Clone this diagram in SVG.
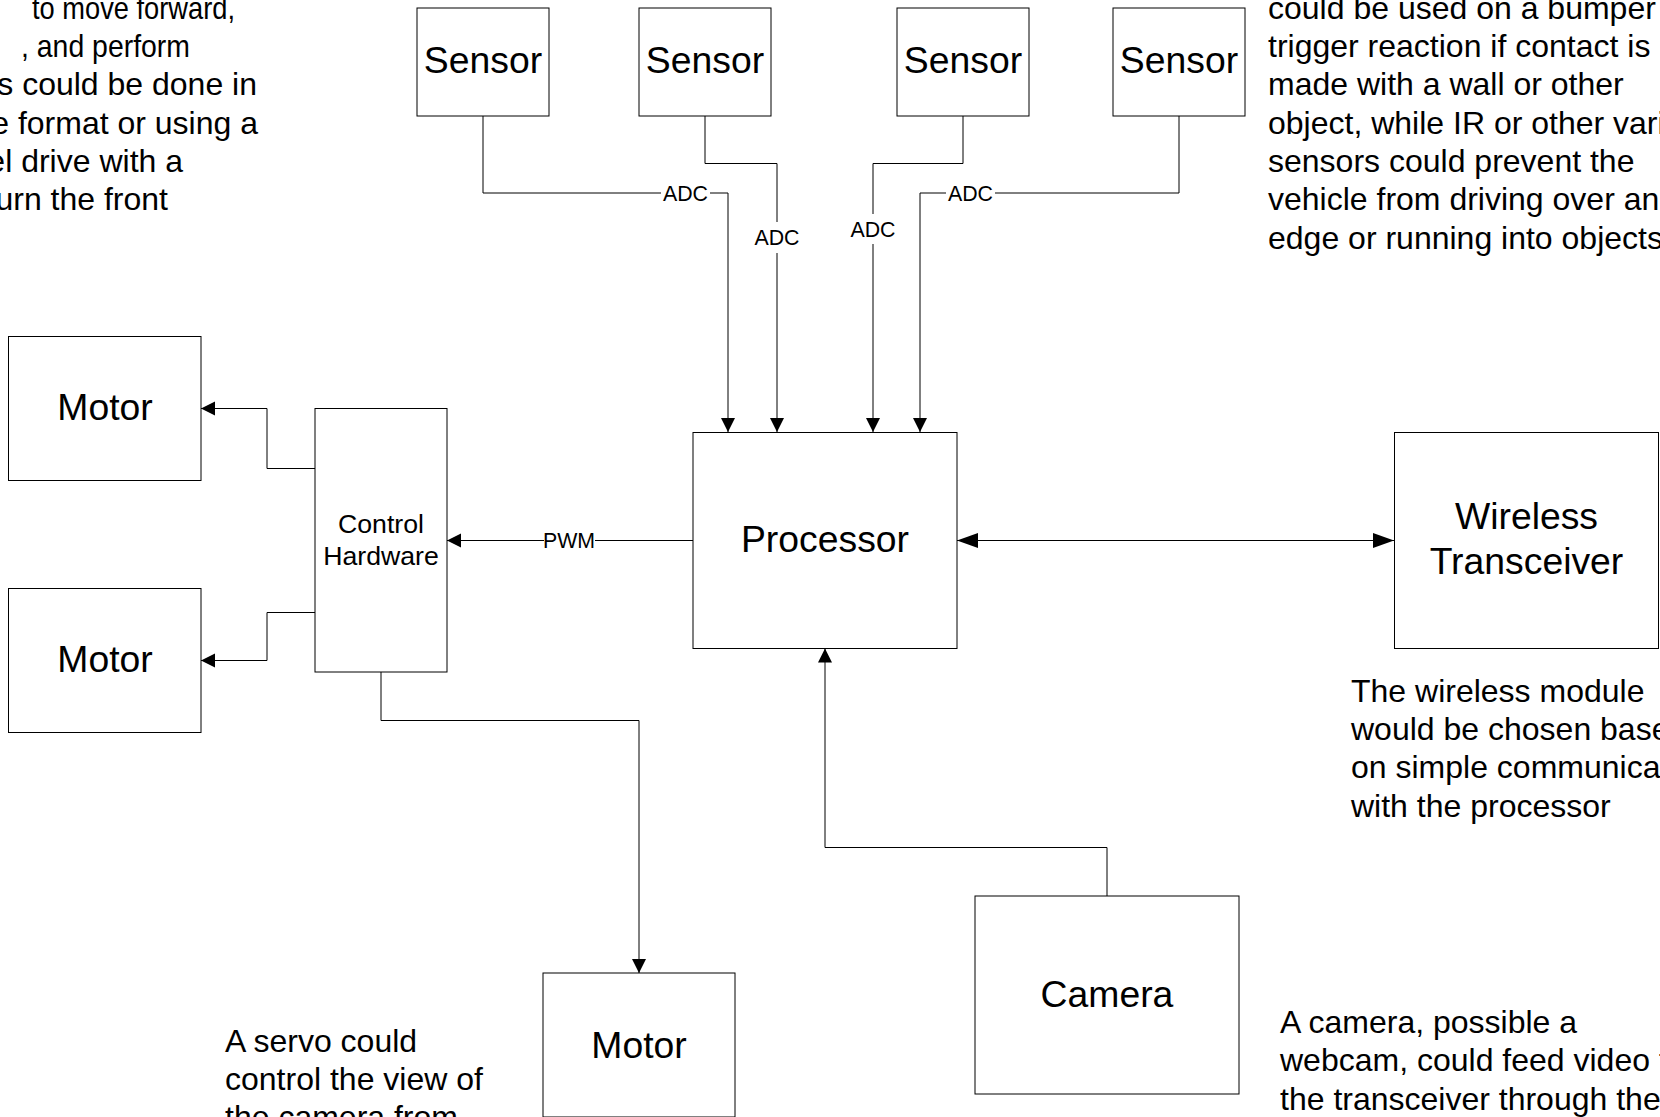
<svg xmlns="http://www.w3.org/2000/svg" width="1660" height="1117" viewBox="0 0 1660 1117">
<style>
  .box{fill:#fff;stroke:#000;stroke-width:1}
  .lbl{font-family:"Liberation Sans",Arial,sans-serif;font-size:37.33px;fill:#000;text-anchor:middle}
  .lbl2{font-family:"Liberation Sans",Arial,sans-serif;font-size:26.67px;fill:#000;text-anchor:middle}
  .note{font-family:"Liberation Sans",Arial,sans-serif;font-size:32px;fill:#000}
  .notes{font-family:"Liberation Sans",Arial,sans-serif;font-size:32px;fill:#000;text-anchor:end}
  .conn{fill:none;stroke:#000;stroke-width:1}
  .clab{font-family:"Liberation Sans",Arial,sans-serif;font-size:21.33px;fill:#000;text-anchor:middle}
  .bg{fill:#fff;stroke:none}
</style>
<defs>
  <marker id="arr" markerUnits="userSpaceOnUse" markerWidth="15" markerHeight="15" refX="14" refY="7" orient="auto-start-reverse">
    <path d="M0,0 L14,7 L0,14 Z" fill="#000"/>
  </marker>
  <marker id="arrBig" markerUnits="userSpaceOnUse" markerWidth="23" markerHeight="16" refX="21" refY="7.5" orient="auto-start-reverse">
    <path d="M0,0 L21,7.5 L0,15 Z" fill="#000"/>
  </marker>
</defs>
<rect x="0" y="0" width="1660" height="1117" fill="#fff"/>

<!-- annotations -->
<g id="note-topleft">
  <text class="note" x="32" y="18.5" textLength="203" lengthAdjust="spacingAndGlyphs">to move forward,</text>
  <text class="note" x="21" y="56.8" textLength="169" lengthAdjust="spacingAndGlyphs">, and perform</text>
  <text class="notes" x="257" y="95.2">s could be done in</text>
  <text class="notes" x="258" y="133.6">e format or using a</text>
  <text class="notes" x="183" y="172">el drive with a</text>
  <text class="notes" x="168" y="210.4">urn the front</text>
</g>
<g id="note-sensors">
  <text class="note" x="1268" y="18.5">could be used on a bumper</text>
  <text class="note" x="1268" y="56.8">trigger reaction if contact is</text>
  <text class="note" x="1268" y="95.2">made with a wall or other</text>
  <text class="note" x="1268" y="133.6">object, while IR or other vari</text>
  <text class="note" x="1268" y="172">sensors could prevent the</text>
  <text class="note" x="1268" y="210.4">vehicle from driving over an</text>
  <text class="note" x="1268" y="248.8">edge or running into objects</text>
</g>
<g id="note-wireless">
  <text class="note" x="1351" y="701.7">The wireless module</text>
  <text class="note" x="1351" y="740">would be chosen base</text>
  <text class="note" x="1351" y="778.3">on simple communica</text>
  <text class="note" x="1351" y="816.7">with the processor</text>
</g>
<g id="note-camera">
  <text class="note" x="1280" y="1033">A camera, possible a</text>
  <text class="note" x="1280" y="1071.3">webcam, could feed video t</text>
  <text class="note" x="1280" y="1109.6">the transceiver through the</text>
</g>
<g id="note-servo">
  <text class="note" x="225" y="1051.5">A servo could</text>
  <text class="note" x="225" y="1089.8">control the view of</text>
  <text class="note" x="225" y="1128.1">the camera from</text>
</g>

<!-- connectors -->
<g id="connectors">
  <path class="conn" d="M483,116 V193 H728 V432" marker-end="url(#arr)"/>
  <path class="conn" d="M705,116 V163.5 H777 V432" marker-end="url(#arr)"/>
  <path class="conn" d="M963,116 V163.5 H873 V432" marker-end="url(#arr)"/>
  <path class="conn" d="M1179,116 V193 H920 V432" marker-end="url(#arr)"/>
  <rect class="bg" x="661" y="182" width="49" height="22"/>
  <text class="clab" x="685.5" y="200.6">ADC</text>
  <rect class="bg" x="752" y="222" width="50" height="31"/>
  <text class="clab" x="777" y="245">ADC</text>
  <rect class="bg" x="848" y="214" width="50" height="30"/>
  <text class="clab" x="873" y="236.6">ADC</text>
  <rect class="bg" x="946" y="182" width="49" height="22"/>
  <text class="clab" x="970.5" y="200.6">ADC</text>

  <path class="conn" d="M693,540.5 H447" marker-end="url(#arr)"/>
  <rect class="bg" x="544" y="529" width="51" height="22"/>
  <text class="clab" x="569" y="548">PWM</text>

  <path class="conn" d="M957,540.5 H1394" marker-start="url(#arrBig)" marker-end="url(#arrBig)"/>

  <path class="conn" d="M315,468.5 H267 V408.5 H201" marker-end="url(#arr)"/>
  <path class="conn" d="M315,612.5 H267 V660.5 H201" marker-end="url(#arr)"/>
  <path class="conn" d="M381,672 V720.5 H639 V973" marker-end="url(#arr)"/>
  <path class="conn" d="M1107,896 V847.5 H825 V648.5" marker-end="url(#arr)"/>
</g>

<!-- nodes -->
<g id="sensor1"><rect class="box" x="417" y="8" width="132" height="108"/><text class="lbl" x="483" y="72.5">Sensor</text></g>
<g id="sensor2"><rect class="box" x="639" y="8" width="132" height="108"/><text class="lbl" x="705" y="72.5">Sensor</text></g>
<g id="sensor3"><rect class="box" x="897" y="8" width="132" height="108"/><text class="lbl" x="963" y="72.5">Sensor</text></g>
<g id="sensor4"><rect class="box" x="1113" y="8" width="132" height="108"/><text class="lbl" x="1179" y="72.5">Sensor</text></g>

<g id="processor"><rect class="box" x="693" y="432.5" width="264" height="216"/><text class="lbl" x="825" y="552.4">Processor</text></g>
<g id="wireless"><rect class="box" x="1394.5" y="432.5" width="264" height="216"/><text class="lbl" x="1526.5" y="529">Wireless</text><text class="lbl" x="1526.5" y="573.5">Transceiver</text></g>
<g id="control"><rect class="box" x="315" y="408.5" width="132" height="263.5"/><text class="lbl2" x="381" y="532.8">Control</text><text class="lbl2" x="381" y="564.6">Hardware</text></g>
<g id="motor1"><rect class="box" x="8.5" y="336.5" width="192.5" height="144"/><text class="lbl" x="105" y="420">Motor</text></g>
<g id="motor2"><rect class="box" x="8.5" y="588.5" width="192.5" height="144"/><text class="lbl" x="105" y="672">Motor</text></g>
<g id="motor3"><rect class="box" x="543" y="973" width="192" height="144"/><text class="lbl" x="639" y="1057.5">Motor</text></g>
<g id="camera"><rect class="box" x="975" y="896" width="264" height="198"/><text class="lbl" x="1107" y="1006.5">Camera</text></g>
</svg>
